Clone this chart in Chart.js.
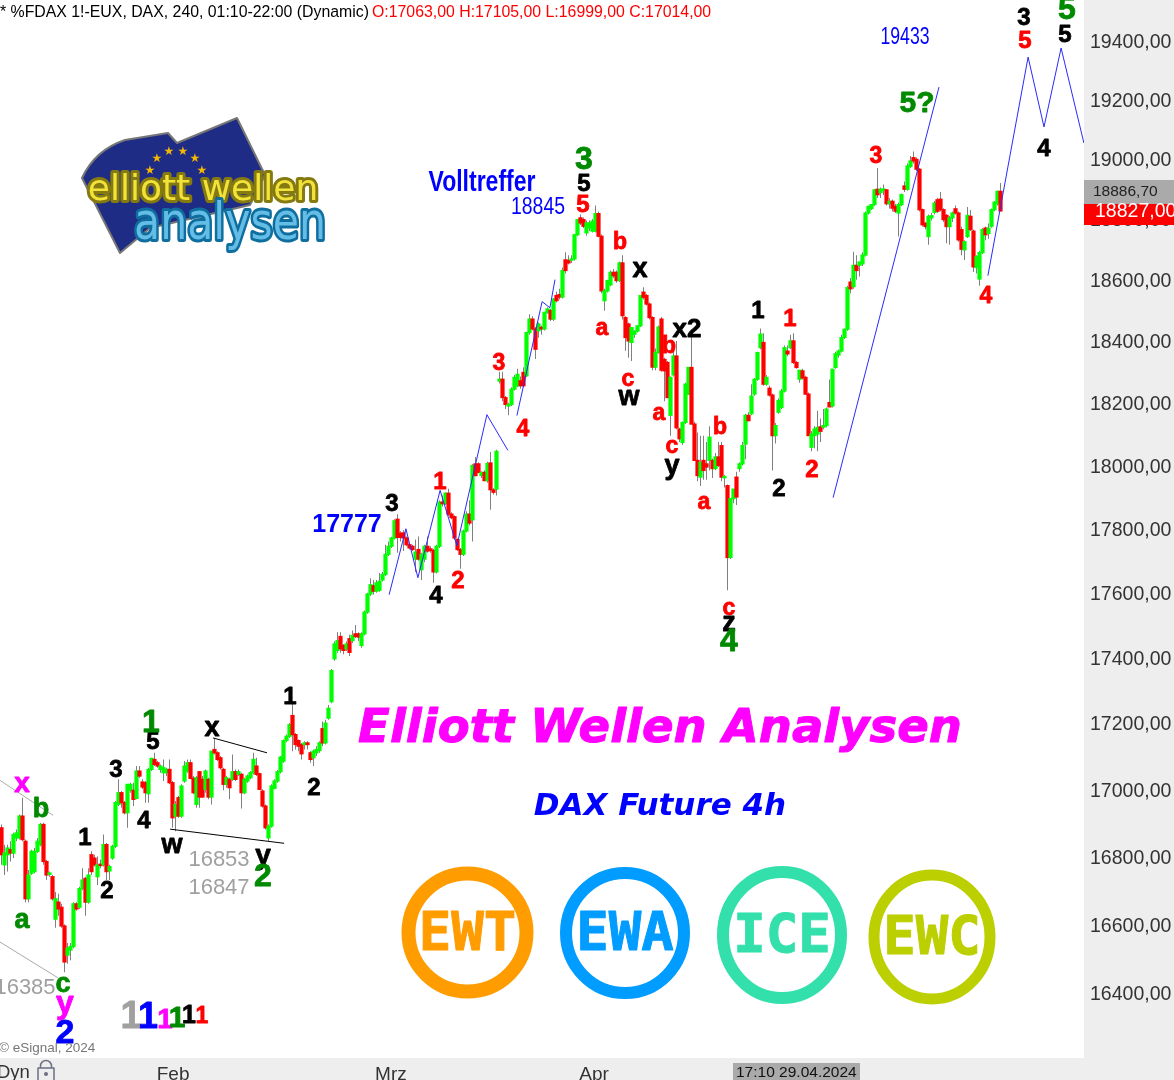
<!DOCTYPE html>
<html><head><meta charset="utf-8">
<style>html,body{margin:0;padding:0;background:#fff;overflow:hidden}canvas{display:block}</style>
<script src="https://cdn.jsdelivr.net/npm/chart.js@4"></script>
</head><body><canvas id="c" width="1174" height="1080"></canvas>
<script>
const opens=[
16885,16775,16805,16820,16810,16855,16855,16920,16845,16675,
16750,16755,16815,16835,16895,16785,16747,16740,16615,16665,
16650,16595,16510,16525,16535,16660,16650,16705,16735,16665,
16805,16795,16740,16777,16775,16835,16757,16795,16830,16955,
16990,16960,16930,16997,16997,16973,17055,17022,17020,16987,
17060,17090,17080,17060,17050,17050,17060,17020,16920,16975,
16920,17025,17055,17080,17033,16955,17053,17030,17000,17030,
16977,17120,17110,17095,17060,17015,17030,17030,17053,17045,
17045,16990,17025,17035,17050,17070,17047,16995,16950,16855,
16890,17003,17025,17053,17085,17147,17160,17223,17165,17147,
17135,17135,17140,17110,17095,17110,17117,17183,17140,17215,
17265,17396,17422,17465,17437,17427,17458,17452,17473,17473,
17437,17473,17540,17596,17622,17605,17608,17640,17657,17720,
17745,17771,17830,17786,17787,17771,17750,17745,17705,17735,
17672,17705,17745,17737,17732,17665,17745,17884,17879,17912,
17846,17838,17766,17735,17720,17793,17846,17828,18005,18005,
17968,17978,17952,18008,17923,17925,18270,18276,18217,18190,
18195,18244,18255,18271,18298,18287,18427,18471,18439,18433,
18444,18439,18493,18499,18471,18548,18551,18543,18665,18663,
18664,18668,18748,18804,18798,18754,18771,18760,18760,18818,
18743,18531,18563,18583,18624,18624,18597,18655,18476,18455,
18395,18422,18432,18449,18559,18548,18520,18476,18315,18363,
18471,18340,18330,18160,18290,18351,18116,18073,18137,18228,
18314,18132,18016,17963,18016,18005,18016,18016,17990,18027,
18063,17961,17936,17710,17895,17963,17990,18005,18068,18160,
18165,18228,18276,18378,18395,18260,18247,18225,18095,18170,
18185,18238,18367,18378,18400,18330,18276,18303,18282,18228,
18058,18095,18100,18123,18122,18127,18201,18190,18314,18354,
18367,18411,18438,18592,18577,18647,18647,18652,18681,18820,
18835,18848,18899,18888,18895,18897,18851,18859,18842,18820,
18848,18910,18899,18975,19005,18999,18966,18831,18786,18742,
18804,18822,18864,18866,18831,18812,18775,18804,18834,18820,
18765,18698,18742,18809,18760,18640,18602,18689,18770,18752,
18776,18831,18851,18892];
const highs=[
16895,16835,16835,16845,16870,16880,16925,16975,16850,16760,
16820,16825,16855,16900,16900,16790,16755,16745,16695,16690,
16660,16600,16545,16545,16665,16665,16710,16765,16740,16765,
16815,16805,16800,16790,16865,16840,16775,16835,16965,17030,
16995,16965,17015,17020,17020,17070,17070,17030,17025,17065,
17095,17110,17085,17075,17090,17065,17090,17025,16965,16980,
17015,17085,17090,17090,17040,17040,17055,17040,17060,17035,
17115,17155,17115,17100,17065,17040,17035,17105,17060,17060,
17050,17035,17045,17055,17110,17095,17050,17000,16955,16895,
17015,17030,17058,17100,17150,17165,17200,17265,17170,17150,
17140,17145,17145,17115,17120,17130,17145,17205,17210,17255,
17365,17450,17478,17478,17442,17450,17470,17483,17500,17478,
17478,17545,17600,17645,17640,17640,17662,17665,17750,17760,
17775,17830,17846,17792,17795,17776,17755,17750,17766,17776,
17725,17750,17776,17745,17737,17750,17890,17905,17915,17926,
17852,17842,17770,17740,17798,17855,17890,18005,18027,18010,
17982,17985,18012,18043,17928,18050,18300,18300,18222,18200,
18250,18290,18310,18285,18315,18430,18487,18480,18445,18460,
18450,18495,18510,18505,18540,18560,18570,18640,18690,18680,
18680,18750,18800,18815,18805,18795,18795,18800,18845,18825,
18750,18570,18600,18630,18635,18630,18660,18680,18480,18460,
18445,18435,18450,18550,18575,18553,18525,18480,18375,18450,
18478,18345,18335,18285,18395,18400,18120,18140,18265,18315,
18420,18140,18105,18095,18095,18075,18125,18022,18040,18075,
18075,17970,17940,17895,17925,17980,18010,18075,18165,18170,
18260,18280,18365,18440,18425,18290,18255,18230,18135,18215,
18245,18385,18385,18420,18425,18335,18305,18310,18287,18233,
18110,18125,18175,18150,18180,18185,18275,18310,18365,18372,
18420,18440,18580,18605,18692,18680,18660,18690,18825,18845,
18850,18900,18970,18905,18915,18900,18870,18865,18850,18855,
18885,18925,18985,19010,19025,19005,18970,18835,18790,18815,
18820,18860,18870,18890,18836,18817,18810,18825,18845,18825,
18775,18730,18840,18830,18765,18680,18695,18770,18775,18785,
18835,18860,18895,18920];
const lows=[
16775,16745,16755,16785,16795,16845,16850,16845,16665,16665,
16745,16750,16810,16830,16775,16730,16740,16670,16590,16625,
16590,16460,16485,16495,16530,16640,16645,16700,16625,16660,
16745,16770,16715,16765,16770,16730,16730,16790,16825,16950,
16945,16925,16885,16990,16950,16970,17035,17000,16960,16960,
17055,17070,17065,17050,17025,17040,17015,16885,16875,16915,
16915,17020,17050,17030,16985,16945,16945,16975,16990,16970,
16955,17105,17085,17060,16997,17005,16970,17025,17025,17040,
16943,16985,17020,17030,17045,17040,17000,16945,16880,16845,
16885,17000,17020,17048,17080,17142,17155,17115,17120,17115,
17090,17120,17120,17080,17070,17100,17110,17130,17135,17210,
17260,17390,17415,17415,17410,17420,17405,17445,17460,17450,
17430,17468,17535,17590,17595,17600,17603,17635,17652,17715,
17740,17766,17725,17760,17730,17745,17735,17730,17665,17700,
17640,17695,17725,17725,17631,17660,17740,17870,17875,17840,
17830,17765,17730,17675,17715,17788,17810,17760,17965,17975,
17960,17950,17945,17860,17908,17905,18262,18205,18180,18160,
18190,18240,18250,18245,18250,18283,18420,18435,18341,18410,
18420,18434,18488,18465,18465,18525,18535,18538,18620,18650,
18655,18663,18743,18780,18770,18745,18760,18755,18755,18740,
18555,18498,18558,18578,18605,18590,18592,18470,18368,18345,
18335,18410,18427,18445,18535,18515,18470,18305,18305,18358,
18300,18205,18215,18095,18285,18115,18075,18065,18132,18225,
18130,18015,17950,17935,17955,17955,17985,17960,17985,17995,
17950,17930,17608,17705,17880,17875,17980,18000,18020,18140,
18160,18223,18271,18373,18255,18255,18220,17984,18070,18165,
18180,18233,18350,18373,18325,18310,18265,18275,18225,18095,
18045,18055,18045,18075,18115,18122,18190,18185,18310,18345,
18362,18406,18433,18555,18570,18600,18610,18645,18676,18815,
18830,18843,18870,18870,18880,18845,18835,18825,18820,18742,
18843,18890,18894,18970,18985,18960,18825,18775,18765,18715,
18795,18815,18820,18825,18790,18720,18715,18790,18815,18725,
18680,18665,18737,18760,18625,18620,18580,18684,18730,18735,
18771,18826,18845,18825];
const closes=[
16805,16810,16825,16810,16865,16870,16920,16850,16675,16745,
16815,16815,16845,16895,16785,16745,16751,16675,16675,16645,
16595,16490,16530,16535,16660,16645,16705,16730,16665,16745,
16755,16775,16775,16773,16835,16755,16770,16830,16960,16990,
16960,16930,17015,17015,16970,17055,17040,17007,16990,17060,
17093,17075,17070,17070,17065,17060,17020,16915,16955,16920,
17010,17070,17080,17033,16990,17035,16977,16977,17055,16977,
17115,17110,17090,17065,17015,17035,17005,17053,17030,17053,
16990,17030,17040,17050,17090,17045,17000,16950,16885,16890,
17010,17025,17053,17097,17147,17160,17195,17165,17135,17130,
17107,17140,17135,17090,17115,17120,17140,17140,17200,17245,
17360,17442,17452,17427,17422,17442,17416,17468,17465,17463,
17473,17540,17596,17625,17605,17631,17636,17657,17720,17745,
17771,17825,17773,17773,17771,17750,17740,17735,17727,17705,
17720,17745,17730,17732,17665,17745,17884,17879,17912,17846,
17835,17771,17735,17720,17793,17846,17818,18000,17968,17978,
17978,17952,18006,17923,17915,18045,18276,18217,18195,18195,
18244,18282,18292,18255,18255,18427,18471,18439,18373,18455,
18439,18493,18504,18471,18536,18531,18543,18630,18630,18655,
18668,18748,18798,18787,18776,18787,18787,18793,18818,18743,
18563,18563,18597,18624,18613,18597,18655,18482,18411,18400,
18443,18432,18449,18548,18542,18520,18476,18315,18363,18445,
18305,18303,18217,18282,18351,18120,18085,18137,18260,18314,
18132,18016,17968,18010,17984,17995,18090,17990,18027,18000,
17963,17965,17710,17895,17925,17900,18005,18063,18160,18143,
18222,18276,18362,18422,18260,18282,18225,18095,18127,18207,
18238,18378,18358,18400,18330,18314,18305,18280,18228,18095,
18100,18116,18121,18109,18127,18180,18187,18308,18358,18367,
18411,18438,18574,18570,18647,18630,18658,18681,18820,18842,
18848,18897,18881,18899,18900,18851,18859,18836,18826,18848,
18881,18899,18977,18994,18994,18966,18831,18781,18775,18809,
18811,18853,18826,18831,18798,18775,18804,18820,18820,18731,
18700,18725,18812,18765,18642,18675,18689,18765,18748,18770,
18831,18856,18892,18827];

const priceTicks=[16400,16600,16800,17000,17200,17400,17600,17800,18000,18200,18400,18600,18800,19000,19200,19400];
const monthLabels=['Feb','Mrz','Apr'];
const monthBars=[57.2,129.8,197.5];

const projA=[[129.2,17594],[134.8,17800],[138.8,17647],[146.2,17921],[151.8,17747],[161.8,18162],[168.8,18048]];
const projB=[[171.8,18159],[180.2,18528],[182.8,18508],[184.5,18600]];
const projC=[[277.2,17898],[312.5,19243]];
const projD=[[328.8,18613],[342.2,19345],[347.5,19108],[353.2,19376],[360.8,19054]];
const trendUpper=[[70.5,17155],[88.5,17110]];
const trendLower=[[56.2,16881],[94.2,16839]];
const grayUpper=[[-0.5,17027],[17.2,16922]];
const grayLower=[[-0.5,16548],[18.8,16444]];

const BL='#000',RD='#ff0000',GN='#008a00',MG='#ff00ff',BU='#0000ff',GY='#a0a0a0';
const waveLabels=[
['x',22,783,MG,28],['b',41,809,GN,27],['a',22,920,GN,27],['c',63,984,GN,27],['y',65,1003,MG,32],['2',65,1033,BU,34],
['1',131,1017,'#a0a0a0',38],['1',148,1017,BU,36],['1',165,1019,MG,28],['1',177,1018,GN,30],['1',189,1015,BL,25],['1',202,1016,RD,23],
['1',85,837,BL,24],['2',107,890,BL,24],['3',116,769,BL,24],['4',144,820,BL,24],['5',153,741,BL,24],['1',151,722,GN,32],
['x',212,728,BL,27],['w',172,845,BL,27],['y',263,855,BL,28],['2',263,876,GN,32],['1',290,696,BL,24],['2',314,787,BL,24],
['3',392,503,BL,24],['4',436,595,BL,24],['1',440,481,RD,24],['2',458,580,RD,24],['3',499,363,RD,23],['4',523,429,RD,23],
['3',584,159,GN,32],['5',584,183,BL,24],['5',583,204,RD,24],
['b',620,242,RD,23],['a',602,328,RD,23],['c',628,379,RD,23],['w',629,397,BL,27],['x',640,269,BL,27],['x2',687,329,BL,26],
['b',669,346,RD,23],['a',659,413,RD,23],['c',672,446,RD,23],['y',672,466,BL,27],['b',720,427,RD,23],['a',704,502,RD,23],
['c',729,608,RD,23],['z',729,623,BL,27],['4',729,641,GN,32],['1',758,310,BL,24],['1',790,318,RD,24],['2',779,488,BL,24],['2',812,469,RD,24],
['3',876,156,RD,23],['4',986,296,RD,23],['5?',917,103,GN,30],['3',1024,17,BL,24],['5',1025,40,RD,24],['5',1067,9,GN,32],['5',1065,34,BL,24],['4',1044,148,BL,24]
];
const plainNotes=[
['16853',219,860,'#a0a0a0','22px "Liberation Sans"'],['16847',219,888,'#a0a0a0','22px "Liberation Sans"'],['16385',25,988,'#a0a0a0','22px "Liberation Sans"'],
['17777',347,525,BU,'bold 25px "Liberation Sans"'],['Volltreffer',482,183,BU,'bold 30px "Liberation Sans"',107],
['18845',538,208,BU,'23px "Liberation Sans"',54],['19433',905,38,BU,'23px "Liberation Sans"',49]
];
const badges=[
['EWT',467.5,932.5,59,59,14,'#ff9c00'],['EWA',625,933,59,60,12,'#009cff'],['ICE',782,935,59,63,12,'#33e0ac'],['EWC',932,937,58,62,11,'#bccf00']
];
const toPts=a=>a.map(p=>({x:p[0],y:p[1]}));
const line=(a,c)=>({type:'line',data:toPts(a),borderColor:c,borderWidth:1,pointRadius:0,tension:0,order:1,fill:false});

const decor={id:'decor',
 beforeDraw(ch){const g=ch.ctx,a=ch.chartArea;g.save();g.fillStyle='#fff';g.fillRect(0,0,1174,1080);g.fillStyle='#eeeeee';
  g.fillRect(a.right,0,1174-a.right,1080);g.fillRect(0,a.bottom,1174,1080-a.bottom);g.restore();},
 afterDraw(ch){const g=ch.ctx;g.save();g.textBaseline='middle';g.textAlign='center';g.lineJoin='round';
  waveLabels.forEach(l=>{g.font='bold '+l[4]+'px "Liberation Sans"';g.fillStyle=l[3];g.strokeStyle=l[3];g.lineWidth=0.8;g.fillText(l[0],l[1],l[2]+1);g.strokeText(l[0],l[1],l[2]+1);});
  plainNotes.forEach(l=>{g.font=l[4];g.fillStyle=l[3];g.fillText(l[0],l[1],l[2],l[5]||9999);});
  g.font='italic bold 46.5px "DejaVu Sans"';g.fillStyle=MG;g.strokeStyle=MG;g.lineWidth=1;g.fillText('Elliott Wellen Analysen',660,730);g.strokeText('Elliott Wellen Analysen',660,730);
  g.font='italic bold 31px "DejaVu Sans"';g.fillStyle=BU;g.fillText('DAX Future 4h',660,807);
  badges.forEach(b=>{g.beginPath();g.ellipse(b[1],b[2],b[3],b[4],0,0,Math.PI*2);g.lineWidth=b[5];g.strokeStyle=b[6];g.stroke();
    g.font='bold 54px "DejaVu Sans Mono"';g.fillStyle=b[6];g.lineWidth=1;g.fillText(b[0],b[1],b[2]+3,98);g.strokeText(b[0],b[1],b[2]+3,98);});
  // logo
  g.beginPath();g.moveTo(82,178);g.quadraticCurveTo(95,150,125,140);g.lineTo(168,133);g.lineTo(177,143);g.lineTo(237,118);g.lineTo(265,175);g.lineTo(250,205);g.lineTo(150,228);g.lineTo(120,253);g.closePath();
  g.fillStyle='#1f2c86';g.fill();g.lineWidth=2;g.strokeStyle='#777';g.stroke();
  g.font='12px "DejaVu Sans"';g.fillStyle='#f5b800';[[157,159],[169,152],[183,152],[195,159],[202,171],[150,171]].forEach(s=>g.fillText('★',s[0],s[1]));
  g.font='36px "DejaVu Sans"';g.lineWidth=6;g.strokeStyle='#857a10';g.strokeText('elliott wellen',203,191,238);g.fillStyle='#f2e33a';g.fillText('elliott wellen',203,191,238);
  g.font='52px "DejaVu Sans"';g.lineWidth=6;g.strokeStyle='#0f6e9e';g.strokeText('analysen',230,225,192);g.fillStyle='#63bde6';g.fillText('analysen',230,225,192);
  // header
  g.textAlign='left';g.font='15.85px "Liberation Sans"';g.fillStyle='#000';g.fillText('* %FDAX 1!-EUX, DAX, 240, 01:10-22:00 (Dynamic)',0,13);
  g.fillStyle='#ff0000';g.fillText('O:17063,00 H:17105,00 L:16999,00 C:17014,00',372,13);
  g.font='13.5px "Liberation Sans"';g.fillStyle='#777';g.fillText('© eSignal, 2024',-1,1048);
  // price tags
  g.fillStyle='#aaaaaa';g.fillRect(1084,180,90,24);g.fillStyle='#ff0000';g.fillRect(1084,204,90,21);
  g.font='15.5px "Liberation Sans"';g.fillStyle='#222';g.fillText('18886,70',1093,192);
  g.font='19.5px "Liberation Sans"';g.fillStyle='#fff';g.fillText('18827,00',1095,212);
  // bottom strip
  g.fillStyle='#aaaaaa';g.fillRect(733,1063,127,17);g.font='15.5px "Liberation Sans"';g.fillStyle='#111';g.fillText('17:10 29.04.2024',736,1073);
  g.font='18.5px "Liberation Sans"';g.fillStyle='#333';g.fillText('Dyn',-3,1073);
  g.strokeStyle='#6b7080';g.lineWidth=1.5;g.strokeRect(38,1068,16,13);g.beginPath();g.arc(46,1066,5.5,Math.PI,0);g.moveTo(40.5,1066);g.lineTo(40.5,1068);g.moveTo(51.5,1066);g.lineTo(51.5,1068);g.stroke();
  g.fillStyle='#6b7080';g.beginPath();g.arc(46,1074,2,0,Math.PI*2);g.fill();
  g.restore();}
};

new Chart(document.getElementById('c'),{
 type:'bar',
 data:{datasets:[
  {data:lows.map((l,i)=>({x:i,y:[l,highs[i]]})),backgroundColor:'#808080',barThickness:1,inflateAmount:0,grouped:false,order:3},
  {data:opens.map((o,i)=>({x:i,y:[o,closes[i]]})),backgroundColor:opens.map((o,i)=>closes[i]>=o?'#00ff00':'#ff0000'),barThickness:3,inflateAmount:0.6,grouped:false,order:2},
  line(projA,'#2a2aff'),line(projB,'#2a2aff'),line(projC,'#2a2aff'),line(projD,'#2a2aff'),
  line(trendUpper,'#000'),line(trendLower,'#000'),line(grayUpper,'#aaa'),line(grayLower,'#aaa')
 ]},
 options:{responsive:false,animation:false,devicePixelRatio:1,layout:{padding:0},
  plugins:{legend:{display:false},tooltip:{enabled:false}},
  scales:{
   x:{type:'linear',min:-0.5,max:360.8333,offset:false,grid:{display:false,drawTicks:false},border:{display:false},
    afterBuildTicks(s){s.ticks=monthBars.map(v=>({value:v}));},
    afterFit(s){s.height=22;s.paddingLeft=0;s.paddingRight=0;},
    ticks:{autoSkip:false,maxRotation:0,padding:5,color:'#333',font:{size:19,family:'"Liberation Sans"'},callback:(v,i)=>monthLabels[i]}},
   y:{type:'logarithmic',position:'right',min:16212.9,max:19540.9,grid:{display:false,drawTicks:false},border:{display:false},
    afterBuildTicks(s){s.ticks=priceTicks.map(v=>({value:v}));},
    afterFit(s){s.width=90;s.paddingTop=0;s.paddingBottom=0;},
    ticks:{autoSkip:false,padding:6,labelOffset:2,color:'#333',font:{size:19.5,family:'"Liberation Sans"'},callback:v=>v+',00'}}
  }},
 plugins:[decor]
});
</script></body></html>
